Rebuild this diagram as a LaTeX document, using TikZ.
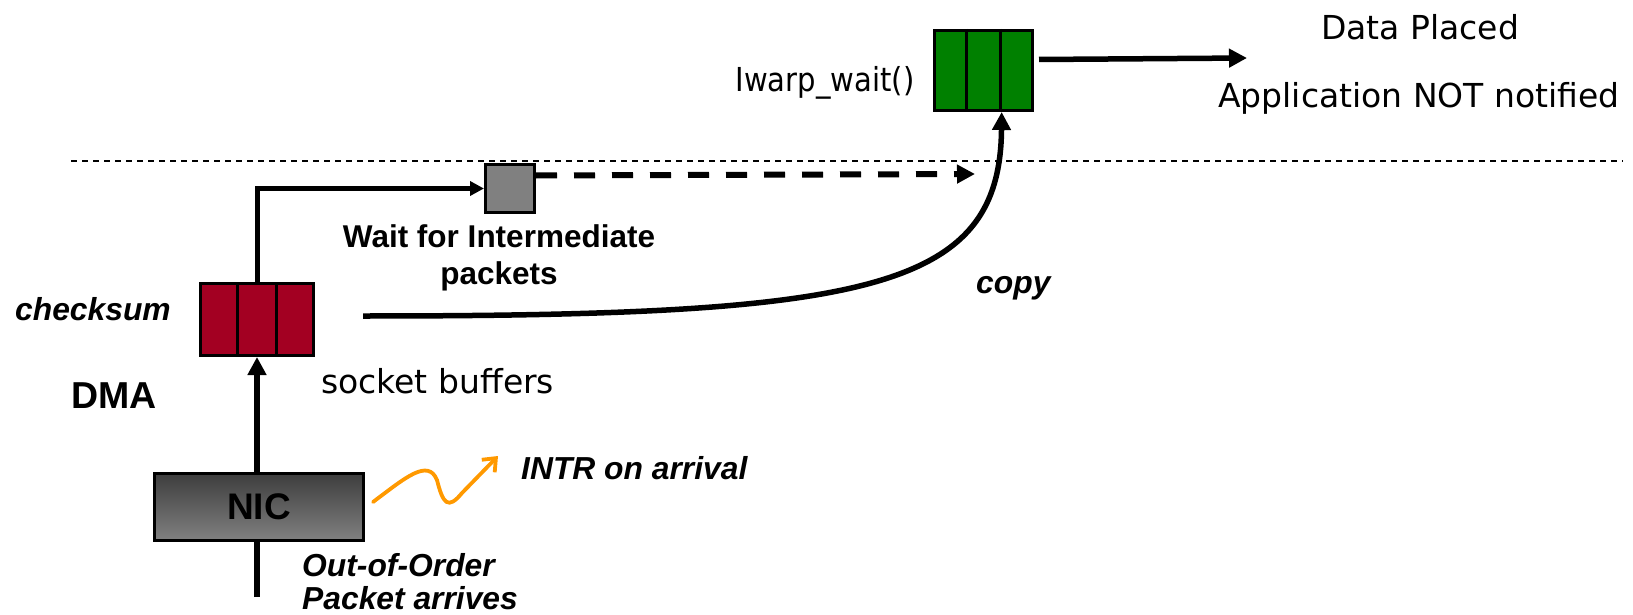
\documentclass[tikz,border=0pt]{standalone}
\usepackage{fontspec}
\setmainfont{DejaVu Sans}
\newfontfamily\arialfont{Liberation Sans}
\newfontfamily\narrowsans{DejaVu Sans}[FakeStretch=0.88]
\usetikzlibrary{arrows.meta,calc}
\definecolor{bufred}{RGB}{163,0,34}
\definecolor{bufgreen}{RGB}{0,128,0}
\definecolor{waitgray}{RGB}{128,128,128}
\definecolor{nictop}{RGB}{62,62,62}
\definecolor{nicbot}{RGB}{128,128,128}
\definecolor{introrange}{RGB}{255,153,0}

\begin{document}
\begin{tikzpicture}[x=1pt,y=-1pt,
  plaintxt/.style={inner sep=0pt, font=\fontsize{33}{40}\selectfont},
  boldtxt/.style={inner sep=0pt, font=\arialfont\bfseries\fontsize{31.5}{38}\selectfont},
  bigbold/.style={inner sep=0pt, font=\arialfont\bfseries\fontsize{37.5}{44}\selectfont},
  bitxt/.style={inner sep=0pt, font=\arialfont\bfseries\itshape\fontsize{31.8}{38}\selectfont},
  buf/.style={draw=black, line width=3pt, inner sep=0pt, anchor=north west},
  divider/.style={line width=2.6pt},
  flow/.style={line width=5.5pt, -{Triangle[length=18pt,width=18pt]}},
]
\useasboundingbox (0,0) rectangle (1633,615);

% boundary between the two layers
\coordinate (sepL) at (71,161);
\coordinate (sepR) at (1623,161);
\draw[line width=1.7pt, dash pattern=on 6pt off 5pt] (sepL) -- (sepR);

% buffers
\node[buf, fill=bufred, minimum width=113pt, minimum height=72pt] (sock) at (199,282) {};
\foreach \f in {1,2}
  \draw[divider] ($(sock.north west)!\f/3!(sock.north east)$) -- ($(sock.south west)!\f/3!(sock.south east)$);

\node[buf, fill=bufgreen, minimum width=98pt, minimum height=80pt] (ulp) at (933,29) {};
\foreach \f in {1,2}
  \draw[divider] ($(ulp.north west)!\f/3!(ulp.north east)$) -- ($(ulp.south west)!\f/3!(ulp.south east)$);

\node[buf, fill=waitgray, minimum width=49pt, minimum height=48pt] (hold) at (484,163) {};

% network card
\coordinate (pktin) at (257,597);
\node[buf, top color=nictop, bottom color=nicbot, minimum width=209pt, minimum height=67pt,
      font=\arialfont\bfseries\fontsize{37}{43}\selectfont, text=black] (nic) at (153,472) {NIC};

% connectors
\draw[line width=5.5pt] (pktin) -- (pktin |- nic.south);
\draw[flow] (sock.south |- nic.north) -- (sock.south);
\draw[line width=5pt, -{Triangle[length=14pt,width=14pt]}] (sock.north) |- (hold.west);

\coordinate (dashend) at (975,174);
\draw[line width=6pt, dash pattern=on 21pt off 17pt, -{Triangle[length=18pt,width=18pt]}]
  ([yshift=13pt]hold.east) -- (dashend);

\coordinate (copyfrom) at (363,316);
\coordinate (ulpin) at ($(ulp.south west)!0.68!(ulp.south east)$);
\draw[flow] (copyfrom) .. controls (870,316) and (1000,290) .. (ulpin);

\coordinate (placedend) at (1247,58);
\draw[flow] ([xshift=5pt,yshift=11pt]ulp.east) -- (placedend);

% interrupt signal
\coordinate (intrfrom) at (373,502);
\coordinate (intrto) at (498,456);
\draw[introrange, line width=3.8pt, line cap=round, -{Straight Barb[length=11pt,width=18pt]}]
  (intrfrom) .. controls (405,478) and (428,458) .. (437,480)
  .. controls (443,504) and (448,510) .. (462,493) -- (intrto);

% labels
\node[plaintxt, anchor=base, font=\narrowsans\fontsize{33}{40}\selectfont] (iwarp) at (825,92) {Iwarp\_wait()};
\node[plaintxt, anchor=base] (placed) at (1420,40) {Data Placed};
\node[plaintxt, anchor=base] (notified) at (1419,108) {Application NOT notified};
\node[boldtxt, anchor=base] (wait1) at (499,247) {Wait for Intermediate};
\node[boldtxt, anchor=base] (wait2) at (499,284) {packets};
\node[bitxt, anchor=base west] (cks) at (15,320) {checksum};
\node[bigbold, anchor=base west] (dma) at (71,408) {DMA};
\node[plaintxt, anchor=base west] (sockbuf) at (321,393) {socket buffers};
\node[bitxt, anchor=base west] (copy) at (976,293) {copy};
\node[bitxt, anchor=base west] (intr) at (521,479) {INTR on arrival};
\node[bitxt, anchor=base west] (ooo) at (302,576) {Out-of-Order};
\node[bitxt, anchor=base west] (arrive) at (302,609) {Packet arrives};
\end{tikzpicture}
\end{document}
